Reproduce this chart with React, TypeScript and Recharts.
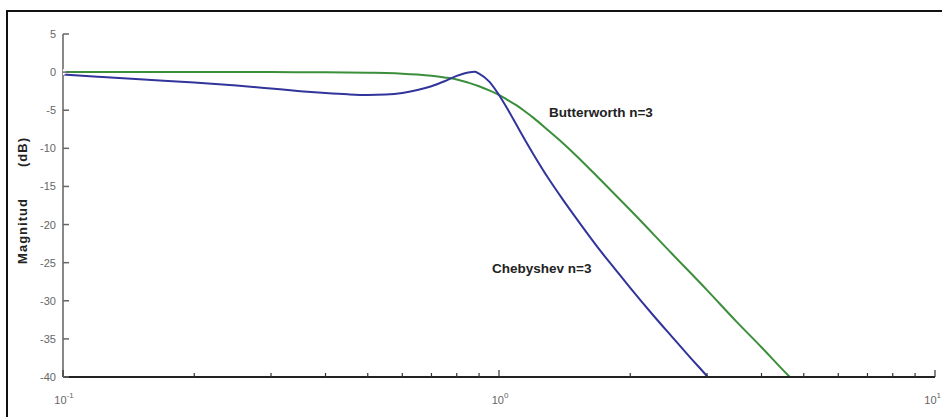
import React from 'react';
import { LineChart, Line, XAxis, YAxis } from 'recharts';

// Chebyshev n=3 (blue)
const chebyshevFreq = [0.1, 0.12, 0.15, 0.2, 0.25, 0.3, 0.35, 0.4, 0.45, 0.5, 0.55, 0.6, 0.65, 0.7, 0.75, 0.8, 0.85, 0.88, 0.9, 0.95, 1.0, 1.05, 1.1, 1.15, 1.2, 1.3, 1.4, 1.5, 1.6, 1.7, 1.85, 2.0, 2.25, 2.5, 2.75, 3.0, 3.05];
const chebyshevDb = [-0.3, -0.6, -0.95, -1.35, -1.75, -2.15, -2.5, -2.75, -2.92, -3.0, -2.95, -2.75, -2.35, -1.85, -1.2, -0.5, -0.05, 0.05, -0.2, -1.25, -3.0, -5.0, -7.05, -9.0, -10.8, -14.0, -16.7, -19.1, -21.3, -23.3, -25.9, -28.3, -31.8, -34.8, -37.5, -39.9, -40.4];

// Butterworth n=3 (green)
const butterworthFreq = [0.1, 0.2, 0.3, 0.4, 0.5, 0.55, 0.6, 0.65, 0.7, 0.75, 0.8, 0.85, 0.9, 0.95, 1.0, 1.05, 1.1, 1.15, 1.2, 1.3, 1.4, 1.5, 1.7, 2.0, 2.5, 3.0, 3.5, 4.0, 4.5, 4.7];
const butterworthDb = [0, 0, 0, -0.02, -0.07, -0.12, -0.2, -0.32, -0.48, -0.7, -0.96, -1.38, -1.85, -2.4, -3.0, -3.7, -4.4, -5.2, -6.0, -7.7, -9.3, -10.9, -14.0, -18.1, -23.9, -28.6, -32.7, -36.1, -39.2, -40.3];

// Axis ticks
const xMajor = [0.1, 1, 10];
const xMajorExp = ['-1', '0', '1'];
const xMinor = [0.2, 0.3, 0.4, 0.5, 0.6, 0.7, 0.8, 0.9, 2, 3, 4, 5, 6, 7, 8, 9];
const yTicks = [5, 0, -5, -10, -15, -20, -25, -30, -35, -40];

const seriesLabels = ['Butterworth n=3', 'Chebyshev n=3'];
const yAxisTitle = ['Magnitud', '(dB)'];

const chebyshevData = chebyshevFreq.map((f, i) => ({ f, v: chebyshevDb[i] }));
const butterworthData = butterworthFreq.map((f, i) => ({ f, v: butterworthDb[i] }));
const helperData = [{ f: 0.1, v: 0 }];
const xTicks = [...xMajor, ...xMinor].sort((a, b) => a - b);

const FONT = '"Liberation Sans", Arial, sans-serif';

const majorIndex = (v: number) => xMajor.findIndex((m) => Math.abs(m - v) < 1e-9);

const BottomTick = (props: any) => {
  const { x, y, payload } = props;
  const idx = majorIndex(payload.value);
  const major = idx >= 0;
  const last = idx === xMajor.length - 1;
  return (
    <g>
      <line x1={x} x2={x} y1={y} y2={y - (major ? 7 : 4)} stroke="#333" strokeWidth={1.2} />
      {major && (
        <text
          x={last ? 941 : x + 1}
          y={y + 27}
          textAnchor={last ? 'end' : 'middle'}
          fontSize={11}
          fill="#666"
          fontFamily={FONT}
        >
          <tspan>10</tspan>
          <tspan dy={-6} fontSize={8}>{xMajorExp[idx]}</tspan>
        </text>
      )}
    </g>
  );
};

const TopTick = (props: any) => {
  const { x, y, payload } = props;
  const major = majorIndex(payload.value) >= 0;
  return <line x1={x} x2={x} y1={y} y2={y + (major ? 7 : 4)} stroke="#666" strokeWidth={1.2} />;
};

const LeftTick = (props: any) => {
  const { x, y, payload } = props;
  return (
    <g>
      <line x1={x} x2={x + 6} y1={y} y2={y} stroke="#666" strokeWidth={1.5} />
      <text x={x - 7} y={y + 4} textAnchor="end" fontSize={11} fill="#666" fontFamily={FONT}>
        {payload.value}
      </text>
    </g>
  );
};

const RightTick = (props: any) => {
  const { x, y } = props;
  return <line x1={x} x2={x - 6} y1={y} y2={y} stroke="#444" strokeWidth={1.5} />;
};

export default function App() {
  return (
    <div style={{ position: 'absolute', left: 0, top: 0, width: 942, height: 417, overflow: 'hidden', background: '#fff' }}>
      <div
        style={{
          position: 'absolute',
          left: 6,
          top: 10,
          width: 960,
          height: 430,
          border: '2px solid #111',
          boxSizing: 'border-box',
        }}
      />
      <div style={{ position: 'absolute', left: 0, top: 0 }}>
        <LineChart width={942} height={417} margin={{ top: 34, right: 7, bottom: 10, left: 23 }}>
          <XAxis
            xAxisId="bottom"
            dataKey="f"
            type="number"
            scale="log"
            domain={[0.1, 10]}
            allowDataOverflow
            ticks={xTicks}
            interval={0}
            height={30}
            tickSize={0}
            tickMargin={0}
            tickLine={false}
            axisLine={{ stroke: '#222', strokeWidth: 2 }}
            tick={<BottomTick />}
          />
          <XAxis
            xAxisId="top"
            orientation="top"
            dataKey="f"
            type="number"
            scale="log"
            domain={[0.1, 10]}
            allowDataOverflow
            ticks={xTicks}
            interval={0}
            height={0}
            tickSize={0}
            tickMargin={0}
            tickLine={false}
            axisLine={{ stroke: '#888', strokeWidth: 2 }}
            tick={<TopTick />}
          />
          <YAxis
            yAxisId="left"
            type="number"
            domain={[-40, 5]}
            allowDataOverflow
            ticks={yTicks}
            interval={0}
            width={40}
            tickSize={0}
            tickMargin={0}
            tickLine={false}
            axisLine={{ stroke: '#888', strokeWidth: 2 }}
            tick={<LeftTick />}
          />
          <YAxis
            yAxisId="right"
            orientation="right"
            type="number"
            domain={[-40, 5]}
            allowDataOverflow
            ticks={yTicks}
            interval={0}
            width={0}
            tickSize={0}
            tickMargin={0}
            tickLine={false}
            axisLine={{ stroke: '#333', strokeWidth: 1.5 }}
            tick={<RightTick />}
          />
          <Line
            xAxisId="top"
            yAxisId="right"
            data={helperData}
            dataKey="v"
            stroke="none"
            dot={false}
            activeDot={false}
            isAnimationActive={false}
          />
          <Line
            xAxisId="bottom"
            yAxisId="left"
            data={butterworthData}
            dataKey="v"
            type="monotone"
            stroke="#3b8f3b"
            strokeWidth={2}
            dot={false}
            activeDot={false}
            isAnimationActive={false}
          />
          <Line
            xAxisId="bottom"
            yAxisId="left"
            data={chebyshevData}
            dataKey="v"
            type="monotone"
            stroke="#31349a"
            strokeWidth={2}
            dot={false}
            activeDot={false}
            isAnimationActive={false}
          />
        </LineChart>
      </div>
      <svg width={942} height={417} style={{ position: 'absolute', left: 0, top: 0, pointerEvents: 'none' }}>
        <text x={549} y={117} fontSize={13.5} fontWeight="bold" fill="#222" fontFamily={FONT}>
          {seriesLabels[0]}
        </text>
        <text x={492} y={273} fontSize={13.5} fontWeight="bold" fill="#222" fontFamily={FONT}>
          {seriesLabels[1]}
        </text>
        <text
          x={27}
          y={231}
          transform="rotate(-90, 27, 231)"
          textAnchor="middle"
          fontSize={13}
          fontWeight="bold"
          letterSpacing={1}
          fill="#222"
          fontFamily={FONT}
        >
          {yAxisTitle[0]}
        </text>
        <text
          x={27}
          y={152}
          transform="rotate(-90, 27, 152)"
          textAnchor="middle"
          fontSize={13}
          fontWeight="bold"
          letterSpacing={1}
          fill="#222"
          fontFamily={FONT}
        >
          {yAxisTitle[1]}
        </text>
      </svg>
    </div>
  );
}
